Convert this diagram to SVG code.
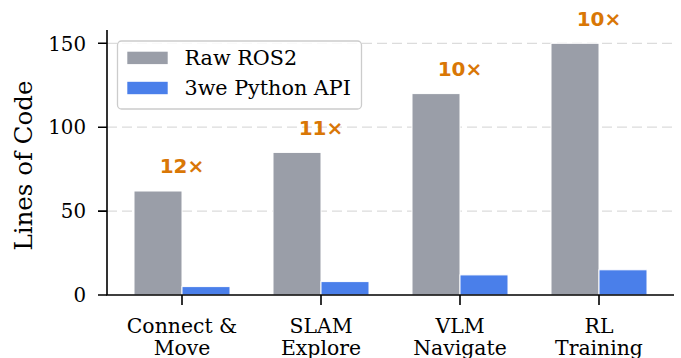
<svg xmlns="http://www.w3.org/2000/svg" width="681" height="358" viewBox="0 0 681 358">
<style>
  text { font-family: "DejaVu Serif", "Liberation Serif", serif; fill: #000; }
  .tick { font-size: 19.8px; text-anchor: end; }
  .cat { font-size: 20.4px; text-anchor: middle; }
  .ylab { font-size: 24.5px; text-anchor: middle; }
  .leg { font-size: 20.7px; }
  .ann { font-family: "DejaVu Sans", "Liberation Sans", sans-serif; font-weight: bold; font-size: 20px; fill: #D97706; text-anchor: middle; }
  .grid { stroke: #dcdcdc; stroke-width: 1.3; stroke-dasharray: 10 5; }
  .ros { fill: #9A9EA8; stroke: #fff; stroke-width: 1; }
  .api { fill: #4A7FEA; stroke: #fff; stroke-width: 1; }
  .axis { stroke: #000; stroke-width: 1.6; fill: none; }
</style>
<rect width="681" height="358" fill="#fff"/>
<g id="grid">
  <line class="grid" x1="107" y1="43.3" x2="674" y2="43.3"/>
  <line class="grid" x1="107" y1="127.2" x2="674" y2="127.2"/>
  <line class="grid" x1="107" y1="211.1" x2="674" y2="211.1"/>
</g>
<g id="bars">
  <g id="connect-move">
    <rect class="ros" x="134" y="191" width="48" height="104"/>
    <rect class="api" x="182" y="286.6" width="48" height="8.4"/>
    <text class="ann" x="182" y="172.5">12×</text>
  </g>
  <g id="slam-explore">
    <rect class="ros" x="273" y="152.4" width="48" height="142.6"/>
    <rect class="api" x="321" y="281.6" width="48" height="13.4"/>
    <text class="ann" x="321" y="134.5">11×</text>
  </g>
  <g id="vlm-navigate">
    <rect class="ros" x="412" y="93.6" width="48" height="201.4"/>
    <rect class="api" x="460" y="274.9" width="48" height="20.1"/>
    <text class="ann" x="460" y="75.5">10×</text>
  </g>
  <g id="rl-training">
    <rect class="ros" x="551" y="43.3" width="48" height="251.7"/>
    <rect class="api" x="599" y="269.8" width="48" height="25.2"/>
    <text class="ann" x="599" y="25.5">10×</text>
  </g>
</g>
<g id="axes">
  <path class="axis" d="M107 30 V295 H674"/>
  <path class="axis" d="M98 43.3 H107 M98 127.2 H107 M98 211.1 H107 M98 295 H107"/>
  <path class="axis" d="M182 295 V305 M321 295 V305 M460 295 V305 M599 295 V305"/>
  <text class="tick" x="86" y="50.5">150</text>
  <text class="tick" x="86" y="134.3">100</text>
  <text class="tick" x="86" y="218.2">50</text>
  <text class="tick" x="86" y="302.1">0</text>
  <text class="cat" x="182" y="333.3">Connect &amp;</text>
  <text class="cat" x="182" y="355">Move</text>
  <text class="cat" x="321" y="333.3">SLAM</text>
  <text class="cat" x="321" y="355">Explore</text>
  <text class="cat" x="460" y="333.3">VLM</text>
  <text class="cat" x="460" y="355">Navigate</text>
  <text class="cat" x="599" y="333.3">RL</text>
  <text class="cat" x="599" y="355">Training</text>
  <text class="ylab" transform="translate(32 165.5) rotate(-90)">Lines of Code</text>
</g>
<g id="legend">
  <rect x="117.5" y="41" width="244" height="68" rx="4" fill="#fff" fill-opacity="0.85" stroke="#cccccc" stroke-width="1.3"/>
  <rect x="127.3" y="51.7" width="40.4" height="12.4" fill="#9A9EA8"/>
  <rect x="127.3" y="81.8" width="40.4" height="12.4" fill="#4A7FEA"/>
  <text class="leg" x="184.5" y="65">Raw ROS2</text>
  <text class="leg" x="184.5" y="95">3we Python API</text>
</g>
</svg>
